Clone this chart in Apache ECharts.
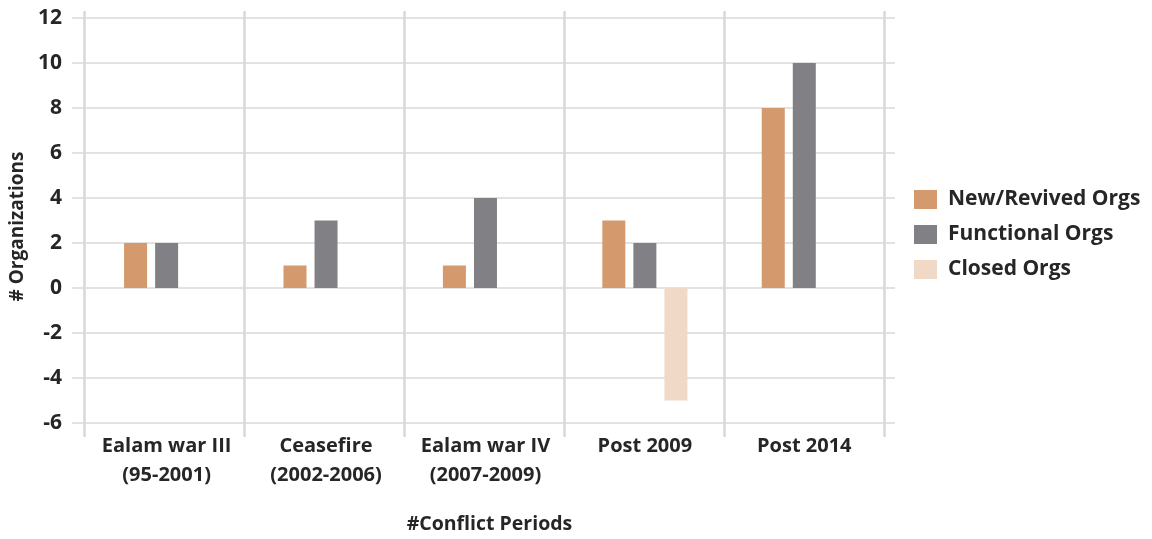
<!DOCTYPE html>
<html>
<head>
<meta charset="utf-8">
<script src="https://cdn.jsdelivr.net/npm/echarts@6/dist/echarts.min.js"></script>
<style>
  html, body { margin: 0; padding: 0; background: #ffffff; }
  #chart { width: 1152px; height: 539px; }
</style>
</head>
<body>
<div id="chart"></div>
<script>
// Organizations per conflict period
const periods = ['Ealam war III\n(95-2001)', 'Ceasefire\n(2002-2006)', 'Ealam war IV\n(2007-2009)', 'Post 2009', 'Post 2014'];
const newRevived = [2, 1, 1, 3, 8];
const functional = [2, 3, 4, 2, 10];
const closed = [0, 0, 0, -5, 0];
const seriesNames = ['New/Revived Orgs', 'Functional Orgs', 'Closed Orgs'];
const seriesColors = ['#D4996C', '#808085', '#F0D9C6'];

const FONT = '"Open Sans", "Liberation Sans", sans-serif';
const TEXT = '#262626';
const GRID_LINE = '#d9d9d9';

const chart = echarts.init(document.getElementById('chart'), null, { renderer: 'canvas' });

chart.setOption({
  animation: false,
  backgroundColor: '#ffffff',
  textStyle: { fontFamily: FONT },
  legend: {
    orient: 'vertical',
    left: 909,
    top: 184,
    itemWidth: 23,
    itemHeight: 19,
    itemGap: 14,
    icon: 'rect',
    data: seriesNames,
    textStyle: { fontFamily: FONT, fontSize: 21, fontWeight: 'bold', color: TEXT, padding: [0, 0, 0, 6] }
  },
  grid: [
    // bar area
    { left: 84, right: 268, top: 18, bottom: 116, containLabel: false },
    // taller frame carrying the period divider lines
    { left: 84, right: 268, top: 11, bottom: 102, containLabel: false }
  ],
  xAxis: [
    {
      type: 'category',
      gridIndex: 0,
      data: periods,
      axisLine: { show: false },
      axisTick: { show: false },
      splitLine: { show: false },
      axisLabel: {
        interval: 0,
        fontFamily: FONT,
        fontSize: 20,
        fontWeight: 'bold',
        color: TEXT,
        lineHeight: 29,
        margin: 9
      },
      name: '#Conflict Periods',
      nameLocation: 'middle',
      nameGap: 91,
      nameTextStyle: { fontFamily: FONT, fontSize: 19.5, fontWeight: 'bold', color: TEXT, padding: [0, 0, 0, 8] }
    },
    {
      type: 'category',
      gridIndex: 1,
      data: periods,
      axisLine: { show: false },
      axisTick: { show: false },
      axisLabel: { show: false },
      splitLine: { show: true, interval: 0, lineStyle: { color: '#d8d8d8', width: 2.5 } }
    }
  ],
  yAxis: [
    {
      type: 'value',
      gridIndex: 0,
      min: -6,
      max: 12,
      interval: 2,
      axisLine: { show: false },
      axisTick: { show: true, length: 15, lineStyle: { color: GRID_LINE, width: 1.5 } },
      splitLine: { show: true, lineStyle: { color: GRID_LINE, width: 1.5 } },
      axisLabel: {
        fontFamily: FONT,
        fontSize: 21,
        fontWeight: 'bold',
        color: TEXT,
        margin: 25
      },
      name: '# Organizations',
      nameLocation: 'middle',
      nameGap: 56,
      nameTextStyle: { fontFamily: FONT, fontSize: 19, fontWeight: 'bold', color: TEXT, padding: [0, 0, 0, -12] }
    },
    {
      // right-side stub ticks continuing the horizontal gridlines
      type: 'value',
      gridIndex: 0,
      position: 'right',
      min: -6,
      max: 12,
      interval: 2,
      axisLine: { show: false },
      axisTick: { show: true, length: 11, lineStyle: { color: GRID_LINE, width: 1.5 } },
      splitLine: { show: false },
      axisLabel: { show: false }
    },
    {
      type: 'value',
      gridIndex: 1,
      min: 0,
      max: 1,
      show: false
    }
  ],
  series: [
    {
      name: seriesNames[0], type: 'bar', xAxisIndex: 0, yAxisIndex: 0,
      data: newRevived, barWidth: 23, barGap: '35%',
      itemStyle: { color: seriesColors[0] }
    },
    {
      name: seriesNames[1], type: 'bar', xAxisIndex: 0, yAxisIndex: 0,
      data: functional, barWidth: 23, barGap: '35%',
      itemStyle: { color: seriesColors[1] }
    },
    {
      name: seriesNames[2], type: 'bar', xAxisIndex: 0, yAxisIndex: 0,
      data: closed, barWidth: 23, barGap: '35%',
      itemStyle: { color: seriesColors[2] }
    }
  ]
});
</script>
</body>
</html>
